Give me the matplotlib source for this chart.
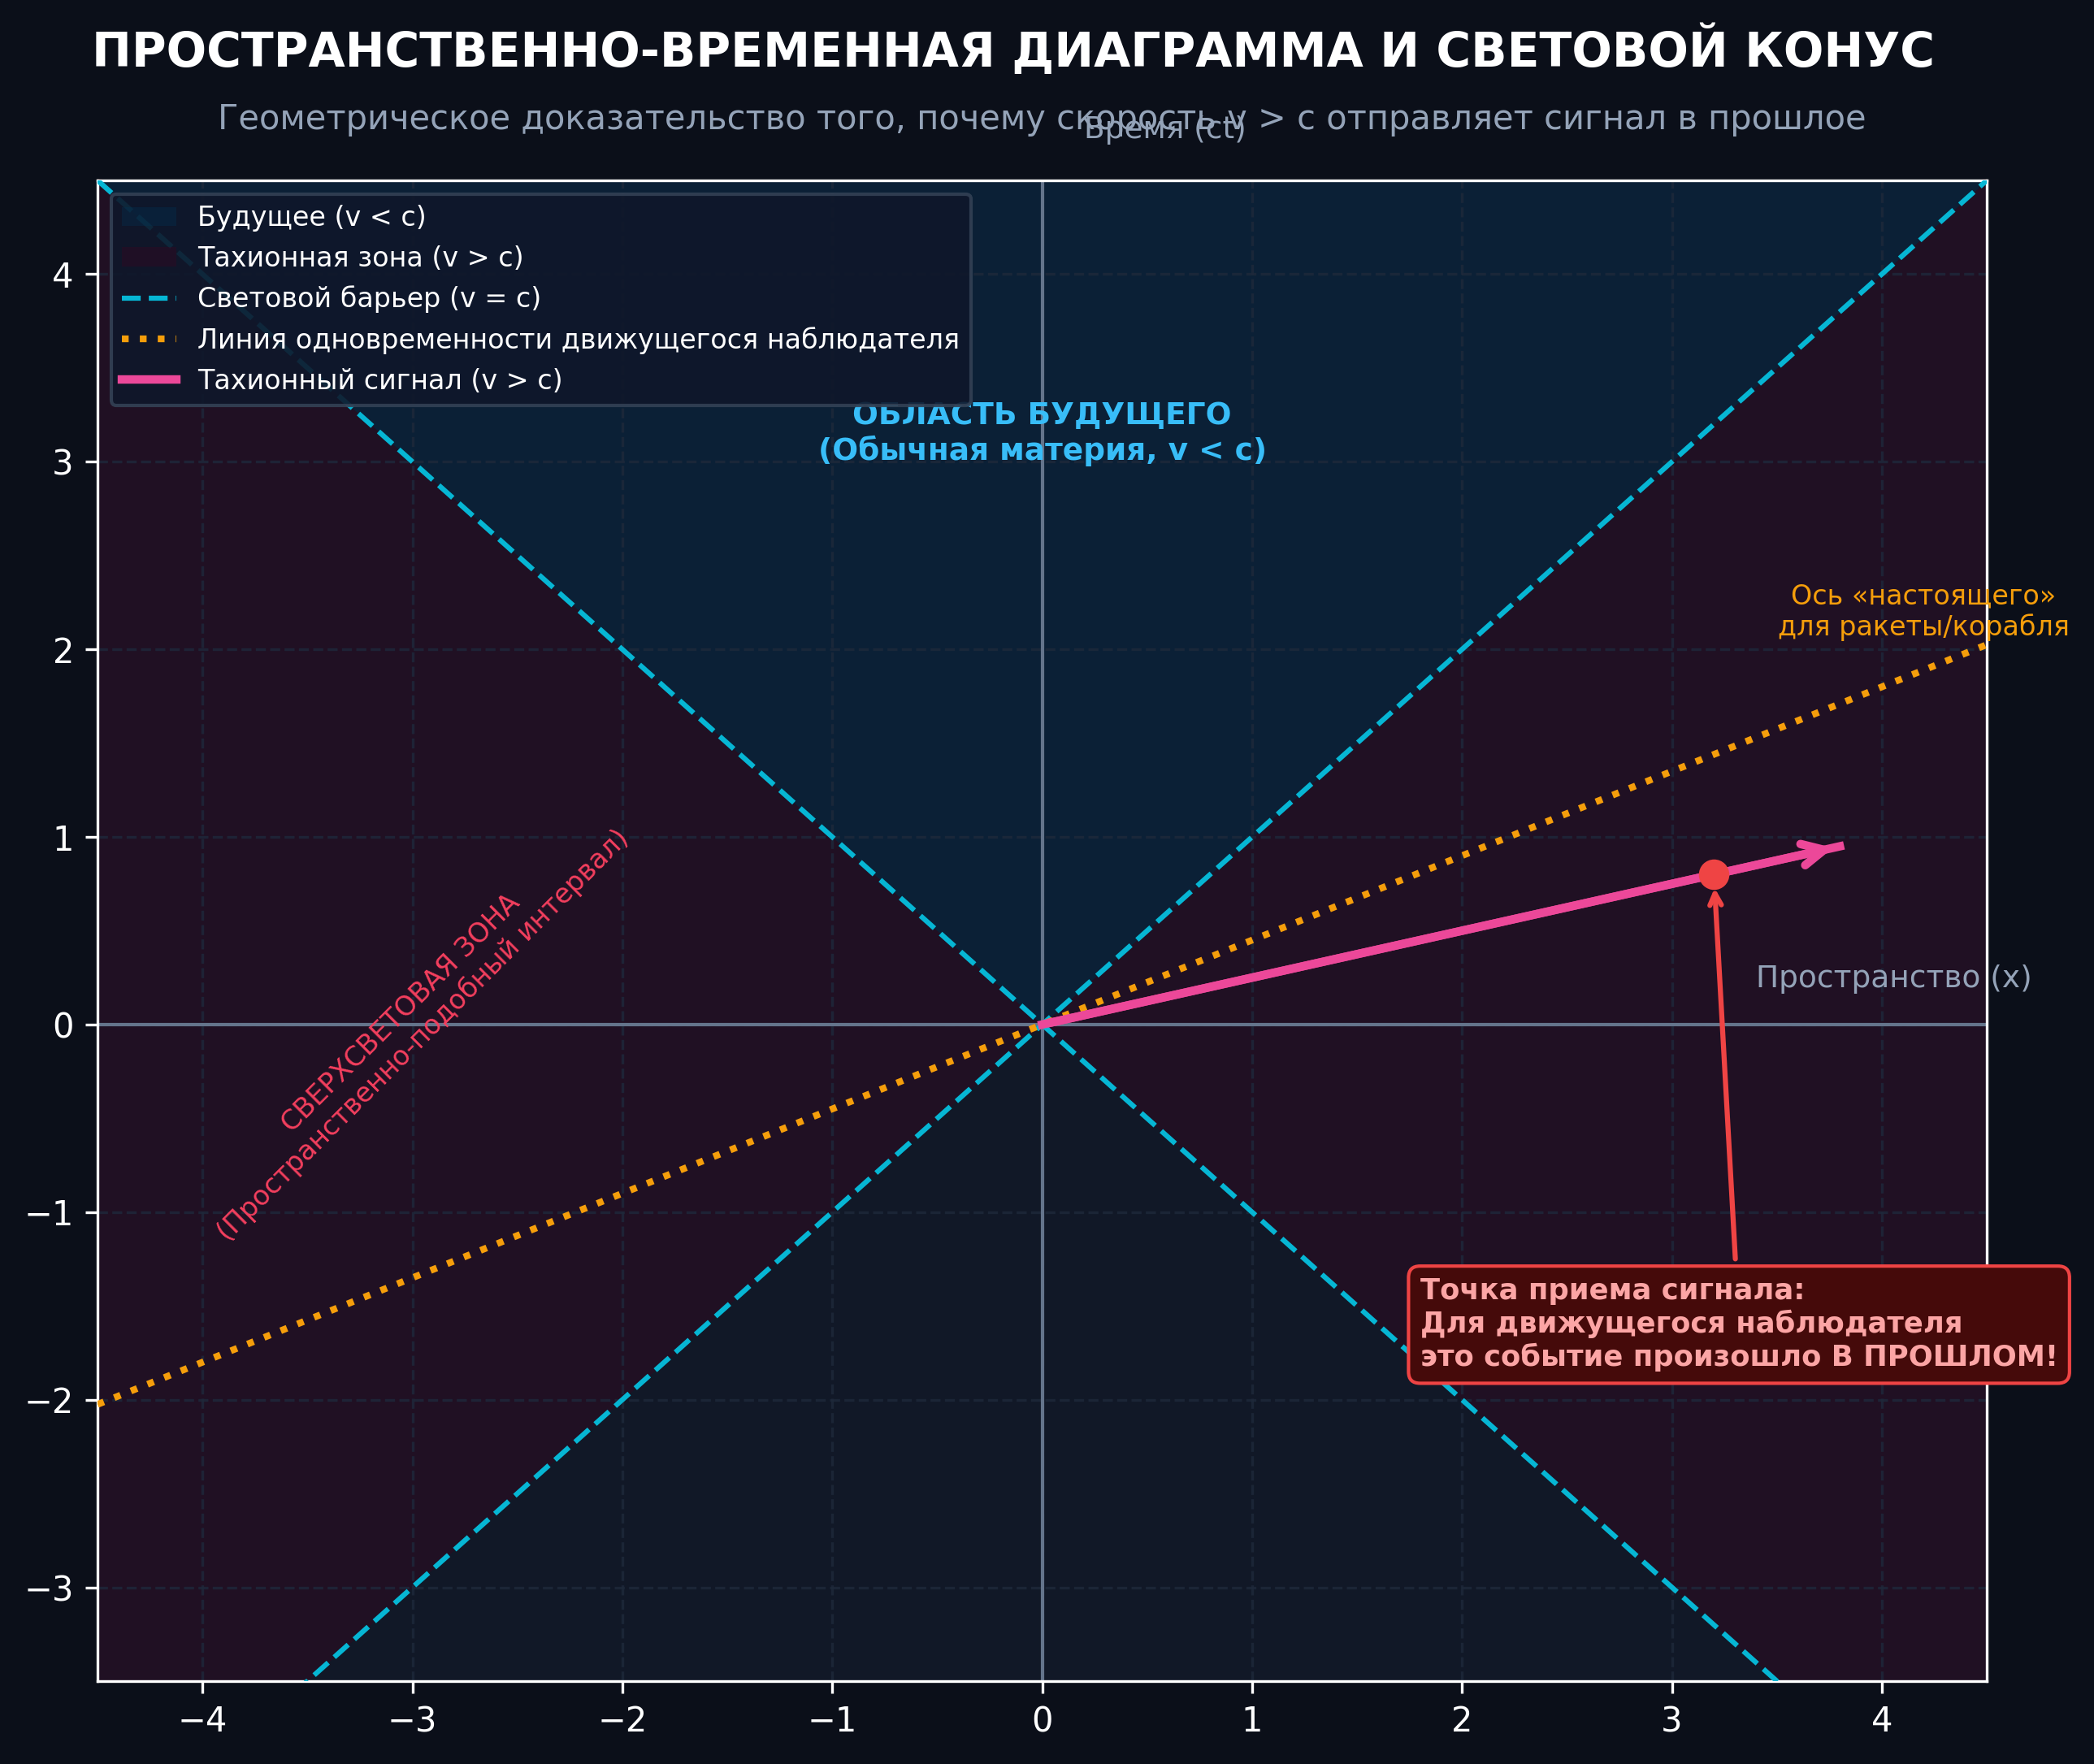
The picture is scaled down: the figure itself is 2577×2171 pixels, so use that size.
import numpy as np
import matplotlib
matplotlib.use('Agg')
import matplotlib.pyplot as plt

# --- data ---
cone_x = [-4.5, 0.0, 4.5]
cone_abs = [4.5, 0.0, 4.5]
cone_top = [4.5, 4.5, 4.5]
light_x = [-4.5, 4.5]
light_y = [-4.5, 4.5]
sim_x = [-4.5, 4.5]
sim_y = [-2.025, 2.025]
signal_x = [0.0, 3.8]
signal_y = [0.0, 0.95]
event_x = 3.2
event_y = 0.8
xticks = [-4, -3, -2, -1, 0, 1, 2, 3, 4]
yticks = [-3, -2, -1, 0, 1, 2, 3, 4]

bg = '#0b0f19'
axbg = '#111827'
cyan = '#06b6d4'
orange = '#f59e0b'
pink = '#ec4899'
red = '#ef4444'
slate = '#94a3b8'

fig = plt.figure(figsize=(8.59, 7.237), dpi=300, facecolor=bg)
ax = fig.add_axes([0.0466, 0.0470, 0.9022, 0.8507])
ax.set_facecolor(axbg)

fut = ax.fill_between(cone_x, cone_abs, cone_top, color='#00355a', alpha=0.3, lw=0,
                      label='Будущее (v < c)')
tach = ax.fill_between(cone_x, [-v for v in cone_abs], cone_abs, color='#43001d', alpha=0.3, lw=0,
                       label='Тахионная зона (v > c)')

ax.axhline(0, color='#64748b', lw=1, zorder=1.6)
ax.axvline(0, color='#64748b', lw=1, zorder=1.6)

l1, = ax.plot(light_x, light_y, '--', color=cyan, lw=1.5, label='Световой барьер (v = c)', zorder=3)
ax.plot(light_x, light_y[::-1], '--', color=cyan, lw=1.5, zorder=3)
l2, = ax.plot(sim_x, sim_y, ':', color=orange, lw=2,
              label='Линия одновременности движущегося наблюдателя', zorder=3)
l3, = ax.plot(signal_x, signal_y, '-', color=pink, lw=2.5, label='Тахионный сигнал (v > c)', zorder=4)
ax.annotate('', xy=(signal_x[1], signal_y[1]), xytext=(signal_x[0], signal_y[0]),
            arrowprops=dict(arrowstyle='->', color=pink, lw=2.5, mutation_scale=16), zorder=4)
ax.plot([event_x], [event_y], 'o', color=red, ms=8, zorder=5)

ax.annotate('Точка приема сигнала:\nДля движущегося наблюдателя\nэто событие произошло В ПРОШЛОМ!',
            xy=(event_x, event_y), xytext=(1.8, -1.6), ha='left', va='center',
            fontsize=8.5, fontweight='bold', color='#fca5a5',
            bbox=dict(boxstyle='round,pad=0.4', facecolor='#450a0a', edgecolor=red, lw=1),
            arrowprops=dict(arrowstyle='->', color=red, lw=1.5, shrinkB=4), zorder=6)

ax.text(0, 3.15, 'ОБЛАСТЬ БУДУЩЕГО\n(Обычная материя, v < c)', ha='center', va='center',
        fontsize=9, fontweight='bold', color='#38bdf8')
ax.text(4.2, 2.2, 'Ось «настоящего»\nдля ракеты/корабля', ha='center', va='center',
        fontsize=8, color=orange)
ax.text(-3.0, 0.0, 'СВЕРХСВЕТОВАЯ ЗОНА\n(Пространственно-подобный интервал)', ha='center',
        va='center', rotation=45, fontsize=8, color='#f43f5e')
ax.text(3.4, 0.2, 'Пространство (x)', ha='left', va='baseline', fontsize=9, color=slate)
ax.text(0.2, 4.725, 'Время (ct)', ha='left', va='baseline', fontsize=9, color=slate)

ax.set_xlim(-4.5, 4.5)
ax.set_ylim(-3.5, 4.5)
ax.set_xticks(xticks)
ax.set_yticks(yticks)
ax.grid(True, ls='--', color='#1e293b', lw=0.8, alpha=0.8)
ax.tick_params(colors='white', labelsize=10)
for s in ax.spines.values():
    s.set_color('white')

leg = ax.legend(handles=[fut, tach, l1, l2, l3], loc='upper left', fontsize=8,
                facecolor='#0f172a', edgecolor='#334155', framealpha=0.9)
for t in leg.get_texts():
    t.set_color('white')

fig.text(0.4838, 0.9622, 'ПРОСТРАНСТВЕННО-ВРЕМЕННАЯ ДИАГРАММА И СВЕТОВОЙ КОНУС',
         ha='center', va='baseline', fontsize=14, fontweight='bold', color='white')
fig.text(0.4977, 0.9268, 'Геометрическое доказательство того, почему скорость v > c отправляет сигнал в прошлое',
         ha='center', va='baseline', fontsize=10, color=slate)

fig.savefig('out.png', dpi=300, facecolor=bg)
